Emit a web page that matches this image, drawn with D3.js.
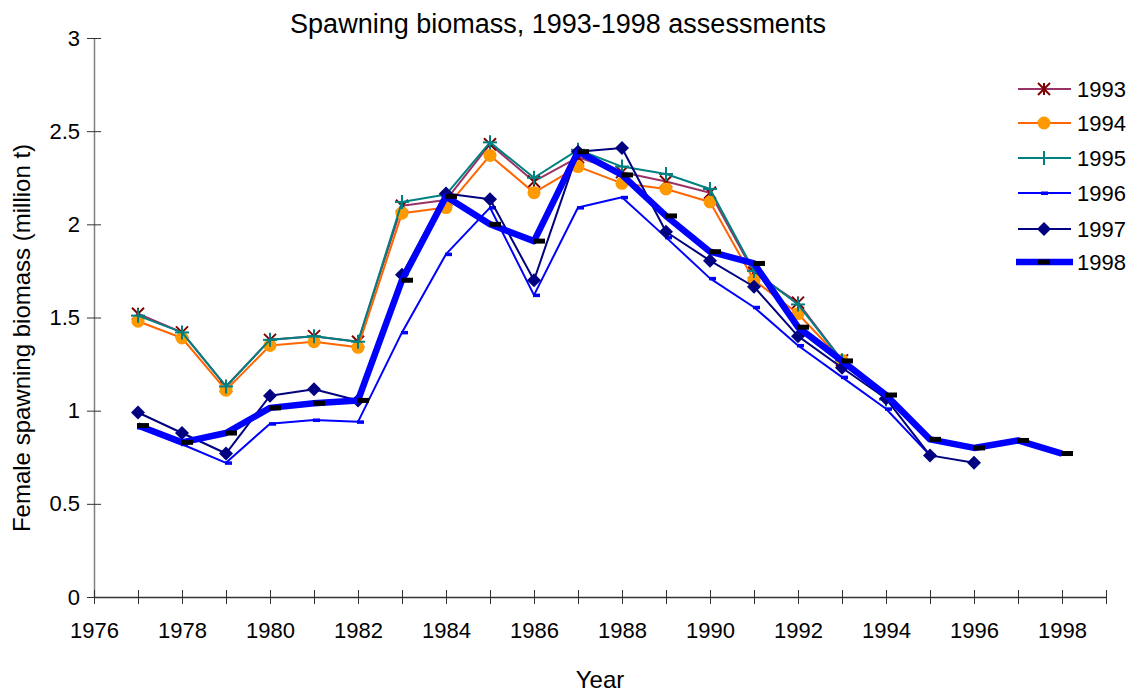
<!DOCTYPE html>
<html>
<head>
<meta charset="utf-8">
<script src="https://cdn.jsdelivr.net/npm/d3@7"></script>
<style>
  html, body { margin: 0; padding: 0; background: #fff; }
  svg { display: block; font-family: "Liberation Sans", Arial, sans-serif; }
</style>
</head>
<body>
<svg id="chart" width="1130" height="694"></svg>
<script>
// Female spawning biomass (million t) by year, one series per assessment
const yearsStart = 1977;
const s1993 = [1.52, 1.42, 1.13, 1.38, 1.40, 1.37, 2.10, 2.13, 2.43, 2.23, 2.36, 2.28, 2.23, 2.17, 1.74, 1.58, 1.27];
const s1994 = [1.48, 1.39, 1.11, 1.35, 1.37, 1.34, 2.06, 2.09, 2.37, 2.17, 2.31, 2.22, 2.19, 2.12, 1.70, 1.52, 1.27];
const s1995 = [1.51, 1.42, 1.13, 1.38, 1.40, 1.37, 2.12, 2.16, 2.44, 2.25, 2.40, 2.31, 2.27, 2.19, 1.75, 1.57, 1.27, 1.06];
const s1996 = [0.91, 0.82, 0.72, 0.93, 0.95, 0.94, 1.42, 1.84, 2.09, 1.62, 2.09, 2.145, 1.93, 1.71, 1.555, 1.35, 1.18, 1.01, 0.76];
const s1997 = [0.99, 0.88, 0.77, 1.08, 1.115, 1.055, 1.73, 2.165, 2.135, 1.70, 2.39, 2.41, 1.96, 1.805, 1.665, 1.40, 1.23, 1.065, 0.76, 0.72];
const s1998 = [0.92, 0.83, 0.88, 1.015, 1.04, 1.055, 1.70, 2.15, 2.00, 1.91, 2.39, 2.265, 2.045, 1.853, 1.79, 1.448, 1.267, 1.084, 0.846, 0.80, 0.84, 0.77];

const yTicks = [0, 0.5, 1, 1.5, 2, 2.5, 3];
const yTickLabels = ["0", "0.5", "1", "1.5", "2", "2.5", "3"];
const xLabelYears = [1976, 1978, 1980, 1982, 1984, 1986, 1988, 1990, 1992, 1994, 1996, 1998];

const series = [
  { name: "1993", values: s1993, line: "#993366", width: 2, marker: "star" },
  { name: "1994", values: s1994, line: "#FF6600", width: 2, marker: "circle" },
  { name: "1995", values: s1995, line: "#008080", width: 2, marker: "plus" },
  { name: "1996", values: s1996, line: "#0000FF", width: 2, marker: "smalldash" },
  { name: "1997", values: s1997, line: "#000080", width: 2, marker: "diamond" },
  { name: "1998", values: s1998, line: "#0000FF", width: 6.5, marker: "bigdash" }
];

const svg = d3.select("#chart");
const x = d3.scaleLinear().domain([1976, 1999]).range([94, 1106]);
const y = d3.scaleLinear().domain([0, 3]).range([597, 38]);

// Title
svg.append("text")
  .attr("x", 558).attr("y", 33)
  .attr("text-anchor", "middle")
  .attr("font-size", 27)
  .text("Spawning biomass, 1993-1998 assessments");

// Y axis
const yAxis = svg.append("g").attr("transform", `translate(${x(1976)},0)`)
  .call(d3.axisLeft(y).tickValues(yTicks)
    .tickFormat((d, i) => yTickLabels[i])
    .tickSizeInner(7).tickSizeOuter(0).tickPadding(7));
yAxis.select(".domain").attr("stroke", "#808080").attr("stroke-width", 1.5);
yAxis.selectAll(".tick line").attr("stroke", "#333").attr("x2", 7).attr("x1", -7);
yAxis.selectAll(".tick text").attr("font-size", 22).attr("fill", "#000")
  .attr("font-family", "Liberation Sans, Arial, sans-serif");

// X axis
const allYears = d3.range(1976, 2000);
const xAxis = svg.append("g").attr("transform", `translate(0,${y(0)})`)
  .call(d3.axisBottom(x).tickValues(allYears)
    .tickFormat(d => xLabelYears.includes(d) ? String(d) : "")
    .tickSizeInner(7).tickSizeOuter(0).tickPadding(18));
xAxis.select(".domain").attr("stroke", "#333").attr("stroke-width", 1.5);
xAxis.selectAll(".tick line").attr("stroke", "#333").attr("y1", -7).attr("y2", 7);
xAxis.selectAll(".tick text").attr("font-size", 22).attr("fill", "#000")
  .attr("font-family", "Liberation Sans, Arial, sans-serif");

// Axis titles
svg.append("text")
  .attr("transform", `translate(30,${338}) rotate(-90)`)
  .attr("text-anchor", "middle")
  .attr("font-size", 24)
  .text("Female spawning biomass (million t)");
svg.append("text")
  .attr("x", 600).attr("y", 688)
  .attr("text-anchor", "middle")
  .attr("font-size", 24)
  .text("Year");

// Marker drawing
function drawMarker(g, kind, cx, cy) {
  if (kind === "star") {
    const r = 6, c = "#800000";
    g.append("line").attr("x1", cx).attr("y1", cy - r).attr("x2", cx).attr("y2", cy + r).attr("stroke", c).attr("stroke-width", 2);
    g.append("line").attr("x1", cx - r).attr("y1", cy - r).attr("x2", cx + r).attr("y2", cy + r).attr("stroke", c).attr("stroke-width", 2);
    g.append("line").attr("x1", cx - r).attr("y1", cy + r).attr("x2", cx + r).attr("y2", cy - r).attr("stroke", c).attr("stroke-width", 2);
  } else if (kind === "circle") {
    g.append("circle").attr("cx", cx).attr("cy", cy).attr("r", 6.5).attr("fill", "#FF9900");
  } else if (kind === "plus") {
    const r = 7, c = "#008080";
    g.append("line").attr("x1", cx - r).attr("y1", cy).attr("x2", cx + r).attr("y2", cy).attr("stroke", c).attr("stroke-width", 2);
    g.append("line").attr("x1", cx).attr("y1", cy - r).attr("x2", cx).attr("y2", cy + r).attr("stroke", c).attr("stroke-width", 2);
  } else if (kind === "smalldash") {
    g.append("rect").attr("x", cx - 1).attr("y", cy - 1.5).attr("width", 7).attr("height", 3.5).attr("fill", "#0000FF");
  } else if (kind === "diamond") {
    const r = 7;
    g.append("path").attr("d", `M${cx},${cy - r}L${cx + r},${cy}L${cx},${cy + r}L${cx - r},${cy}Z`).attr("fill", "#000080");
  } else if (kind === "bigdash") {
    g.append("rect").attr("x", cx - 1).attr("y", cy - 2.5).attr("width", 12).attr("height", 5).attr("fill", "#000");
  }
}

// Series lines and markers
const line = d3.line().x(d => x(d.year)).y(d => y(d.value));
series.forEach(s => {
  const pts = s.values.map((v, i) => ({ year: yearsStart + i, value: v }));
  const g = svg.append("g").attr("class", "series-" + s.name);
  g.append("path").datum(pts).attr("d", line)
    .attr("fill", "none").attr("stroke", s.line).attr("stroke-width", s.width)
    .attr("stroke-linejoin", "round");
  pts.forEach(p => drawMarker(g, s.marker, x(p.year), y(p.value)));
});

// Legend
const legendRowY = [89, 123, 158, 193, 229, 262];
const legend = svg.append("g");
series.forEach((s, i) => {
  const ly = legendRowY[i];
  legend.append("line").attr("x1", s.marker === "bigdash" ? 1016 : 1018).attr("x2", s.marker === "bigdash" ? 1073 : 1071)
    .attr("y1", ly).attr("y2", ly).attr("stroke", s.line).attr("stroke-width", s.width);
  drawMarker(legend, s.marker, s.marker === "bigdash" ? 1039 : (s.marker === "smalldash" ? 1042 : 1044), ly);
  legend.append("text").attr("x", 1077).attr("y", ly).attr("dy", "0.35em")
    .attr("font-size", 22).text(s.name);
});
</script>
</body>
</html>
